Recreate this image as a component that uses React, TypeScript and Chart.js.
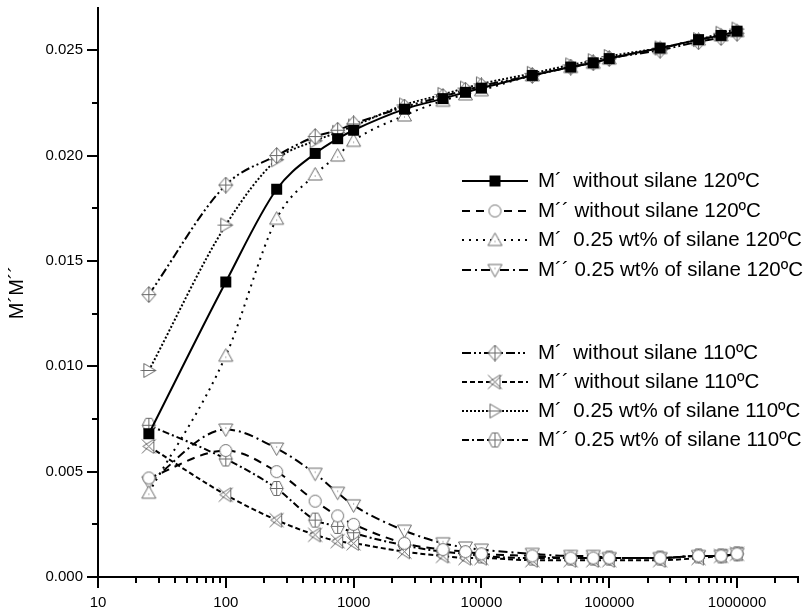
import React, { useEffect, useRef } from 'react';
import { Chart, registerables } from 'chart.js';

Chart.register(...registerables);

// ---------- data ----------
const FREQ = [25, 100, 250, 500, 750, 1000, 2500, 5000, 7500, 10000, 25000, 50000, 75000, 100000, 250000, 500000, 750000, 1000000];

const M1_NOSIL_120 = [0.0068, 0.0140, 0.0184, 0.0201, 0.0208, 0.0212, 0.0222, 0.0227, 0.0230, 0.0232, 0.0238, 0.0242, 0.0244, 0.0246, 0.0251, 0.0255, 0.0257, 0.0259];
const M2_NOSIL_120 = [0.0047, 0.0060, 0.0050, 0.0036, 0.0029, 0.0025, 0.0016, 0.0013, 0.0012, 0.0011, 0.0010, 0.0009, 0.0009, 0.0009, 0.0009, 0.0010, 0.0010, 0.0011];
const M1_SIL_120 = [0.0040, 0.0105, 0.0170, 0.0191, 0.0200, 0.0207, 0.0219, 0.0226, 0.0229, 0.0231, 0.0238, 0.0242, 0.0244, 0.0246, 0.0251, 0.0255, 0.0257, 0.0259];
const M2_SIL_120 = [0.0045, 0.0070, 0.0061, 0.0049, 0.0040, 0.0034, 0.0022, 0.0016, 0.0014, 0.0013, 0.0011, 0.0010, 0.0010, 0.0009, 0.0009, 0.0010, 0.0010, 0.0011];
const M1_NOSIL_110 = [0.0134, 0.0186, 0.0200, 0.0209, 0.0212, 0.0215, 0.0223, 0.0228, 0.0231, 0.0233, 0.0238, 0.0242, 0.0244, 0.0246, 0.0250, 0.0254, 0.0256, 0.0258];
const M2_NOSIL_110 = [0.0062, 0.0039, 0.0027, 0.0020, 0.0017, 0.0016, 0.0012, 0.0010, 0.0009, 0.0009, 0.0008, 0.0008, 0.0008, 0.0008, 0.0008, 0.0009, 0.0010, 0.0011];
const M1_SIL_110 = [0.0098, 0.0167, 0.0198, 0.0207, 0.0211, 0.0214, 0.0224, 0.0229, 0.0232, 0.0234, 0.0239, 0.0243, 0.0245, 0.0247, 0.0251, 0.0255, 0.0258, 0.0260];
const M2_SIL_110 = [0.0072, 0.0056, 0.0042, 0.0027, 0.0024, 0.0021, 0.0015, 0.0012, 0.0011, 0.0010, 0.0009, 0.0009, 0.0009, 0.0009, 0.0009, 0.0010, 0.0010, 0.0011];

const SERIES_LABELS = [
  'M´  without silane 120ºC',
  'M´´ without silane 120ºC',
  'M´  0.25 wt% of silane 120ºC',
  'M´´ 0.25 wt% of silane 120ºC',
  'M´  without silane 110ºC',
  'M´´ without silane 110ºC',
  'M´  0.25 wt% of silane 110ºC',
  'M´´ 0.25 wt% of silane 110ºC',
];

const X_MAJOR = [10, 100, 1000, 10000, 100000, 1000000];
const X_TICK_LABELS = ['10', '100', '1000', '10000', '100000', '1000000'];
const Y_MAJOR = [0, 0.005, 0.01, 0.015, 0.02, 0.025];
const Y_TICK_LABELS = ['0.000', '0.005', '0.010', '0.015', '0.020', '0.025'];
const Y_TITLE = 'M´M´´';

// ---------- styles ----------
const FONT = "'Liberation Sans', Arial, sans-serif";
const MARKER_GRAY = '#6a6a6a';

function makeMarker(kind: string): HTMLCanvasElement {
  const s = 17;
  const c = document.createElement('canvas');
  c.width = s;
  c.height = s;
  const g = c.getContext('2d')!;
  const m = s / 2;
  g.strokeStyle = MARKER_GRAY;
  g.fillStyle = '#fff';
  g.lineWidth = 1;
  const tri = (pts: number[][]) => {
    g.beginPath();
    g.moveTo(pts[0][0], pts[0][1]);
    for (let i = 1; i < pts.length; i++) g.lineTo(pts[i][0], pts[i][1]);
    g.closePath();
    g.fill();
    g.stroke();
  };
  const line = (x1: number, y1: number, x2: number, y2: number) => {
    g.beginPath();
    g.moveTo(x1, y1);
    g.lineTo(x2, y2);
    g.stroke();
  };
  switch (kind) {
    case 'square':
      g.fillStyle = '#000';
      g.fillRect(m - 5.5, m - 5.5, 11, 11);
      break;
    case 'circle':
      g.beginPath();
      g.arc(m, m, 6, 0, Math.PI * 2);
      g.fill();
      g.stroke();
      break;
    case 'triUp':
      tri([[m, m - 7], [m + 7, m + 5.5], [m - 7, m + 5.5]]);
      g.fillStyle = MARKER_GRAY;
      g.fillRect(m - 0.5, m + 1, 1, 1);
      break;
    case 'triDown':
      tri([[m - 7, m - 5.5], [m + 7, m - 5.5], [m, m + 7]]);
      g.fillStyle = MARKER_GRAY;
      g.fillRect(m - 0.5, m - 2, 1, 1);
      break;
    case 'diamondCross':
      tri([[m, m - 8], [m + 7, m], [m, m + 8], [m - 7, m]]);
      line(m, m - 8, m, m + 8);
      line(m - 7, m, m + 7, m);
      break;
    case 'xTri':
      tri([[m + 5, m - 7], [m + 5, m + 7], [m - 6, m]]);
      line(m - 7, m - 7, m + 7, m + 7);
      line(m - 7, m + 7, m + 7, m - 7);
      break;
    case 'triRight':
      tri([[m - 5, m - 7], [m + 7, m], [m - 5, m + 7]]);
      line(m - 8, m, m + 7, m);
      break;
    case 'hexCross':
      tri([[m - 3, m - 7], [m + 3, m - 7], [m + 6.5, m], [m + 3, m + 7], [m - 3, m + 7], [m - 6.5, m]]);
      line(m, m - 7, m, m + 7);
      line(m - 6.5, m, m + 6.5, m);
      break;
  }
  return c;
}

const SERIES_DATA = [M1_NOSIL_120, M2_NOSIL_120, M1_SIL_120, M2_SIL_120, M1_NOSIL_110, M2_NOSIL_110, M1_SIL_110, M2_SIL_110];
const SERIES_MARKERS = ['square', 'circle', 'triUp', 'triDown', 'diamondCross', 'xTri', 'triRight', 'hexCross'];
const SERIES_DASH: number[][] = [[], [8, 6], [2, 5], [9, 4, 2, 4], [9, 3, 2, 3, 2, 3], [5, 3], [2, 2], [7, 3, 2, 3]];
const LEGEND_ROWS_Y = [181, 211, 240, 270, 353, 382, 411, 440];

export default function App() {
  const ref = useRef<HTMLCanvasElement>(null);

  useEffect(() => {
    const canvas = ref.current;
    if (!canvas) return;
    const markers = SERIES_MARKERS.map(makeMarker);

    const datasets = SERIES_DATA.map((vals, i) => ({
      label: SERIES_LABELS[i],
      data: vals.map((v, j) => ({ x: FREQ[j], y: v })),
      borderColor: '#000',
      backgroundColor: '#000',
      borderWidth: 2,
      borderDash: SERIES_DASH[i],
      cubicInterpolationMode: 'monotone' as const,
      pointStyle: markers[i],
      pointRadius: 6,
      pointHoverRadius: 6,
    }));

    const tickPlugin = {
      id: 'tickMarks',
      afterDraw(chart: any) {
        const ctx = chart.ctx;
        const xs = chart.scales.x;
        const ys = chart.scales.y;
        const area = chart.chartArea;
        ctx.save();
        ctx.strokeStyle = '#000';
        ctx.lineWidth = 2;
        for (let d = 10; d <= 1000000; d *= 10) {
          for (let k = 1; k <= 9; k++) {
            const v = d * k;
            if (v > xs.max) break;
            const px = Math.round(xs.getPixelForValue(v));
            const len = k === 1 ? 11 : 6;
            ctx.beginPath();
            ctx.moveTo(px, area.bottom);
            ctx.lineTo(px, area.bottom + len);
            ctx.stroke();
          }
        }
        for (let i = 0; i <= 10; i++) {
          const v = i * 0.0025;
          const py = Math.round(ys.getPixelForValue(v));
          const len = i % 2 === 0 ? 11 : 6;
          ctx.beginPath();
          ctx.moveTo(area.left, py);
          ctx.lineTo(area.left - len, py);
          ctx.stroke();
        }
        ctx.restore();
      },
    };

    const legendPlugin = {
      id: 'customLegend',
      afterDraw(chart: any) {
        const ctx = chart.ctx;
        ctx.save();
        chart.data.datasets.forEach((ds: any, i: number) => {
          const y = LEGEND_ROWS_Y[i];
          ctx.strokeStyle = '#000';
          ctx.lineWidth = 2;
          ctx.setLineDash(SERIES_DASH[i]);
          ctx.beginPath();
          ctx.moveTo(462, y);
          ctx.lineTo(528, y);
          ctx.stroke();
          ctx.setLineDash([]);
          const mk = markers[i];
          ctx.drawImage(mk, 495 - mk.width / 2, y - mk.height / 2);
          ctx.fillStyle = '#000';
          ctx.font = `20.5px ${FONT}`;
          ctx.textAlign = 'left';
          ctx.textBaseline = 'middle';
          ctx.fillText(ds.label, 538, y);
        });
        ctx.restore();
      },
    };

    const chart = new Chart(canvas, {
      type: 'line',
      data: { datasets },
      options: {
        animation: false,
        responsive: false,
        devicePixelRatio: 1,
        layout: { padding: { top: 5, right: 6, left: 0, bottom: 0 } },
        plugins: { legend: { display: false }, tooltip: { enabled: false } },
        scales: {
          x: {
            type: 'logarithmic',
            min: 10,
            max: 3000000,
            grid: { display: false, drawTicks: false },
            border: { display: true, color: '#000', width: 2 },
            afterBuildTicks: (s: any) => {
              s.ticks = X_MAJOR.map((v) => ({ value: v }));
            },
            afterFit: (s: any) => {
              s.height = 39;
              s.paddingLeft = 0;
              s.paddingRight = 0;
            },
            ticks: {
              autoSkip: false,
              maxRotation: 0,
              padding: 17,
              color: '#000',
              font: { size: 15, family: FONT },
              callback: (_v: any, i: number) => X_TICK_LABELS[i],
            },
          },
          y: {
            type: 'linear',
            min: 0,
            max: 0.027,
            grid: { display: false, drawTicks: false },
            border: { display: true, color: '#000', width: 2 },
            afterBuildTicks: (s: any) => {
              s.ticks = Y_MAJOR.map((v) => ({ value: v }));
            },
            afterFit: (s: any) => {
              s.width = 98;
              s.paddingTop = 0;
              s.paddingBottom = 0;
            },
            title: {
              display: true,
              text: Y_TITLE,
              color: '#000',
              font: { size: 20, family: FONT },
              padding: { top: 5, bottom: 0 },
            },
            ticks: {
              padding: 15,
              color: '#000',
              font: { size: 15, family: FONT },
              callback: (_v: any, i: number) => Y_TICK_LABELS[i],
            },
          },
        },
      },
      plugins: [tickPlugin, legendPlugin],
    });

    return () => chart.destroy();
  }, []);

  return (
    <div style={{ position: 'fixed', left: 0, top: 0, width: 806, height: 616, background: '#fff' }}>
      <canvas ref={ref} width={806} height={616} style={{ display: 'block' }} />
    </div>
  );
}
